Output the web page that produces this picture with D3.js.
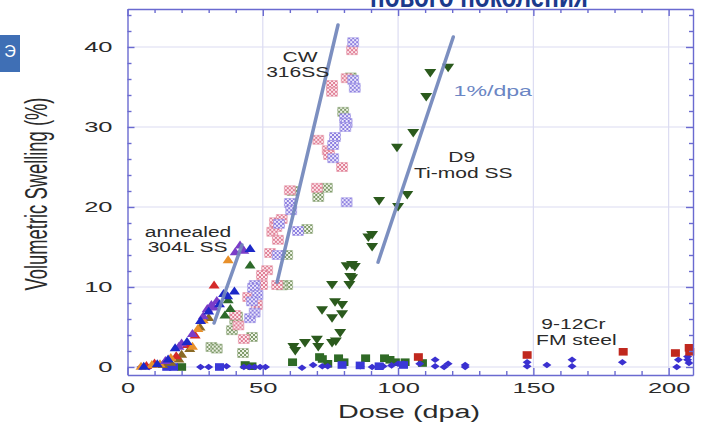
<!DOCTYPE html>
<html>
<head>
<meta charset="utf-8">
<script src="https://cdn.jsdelivr.net/npm/d3@7"></script>
<style>
body{margin:0;background:#fff;}
svg{display:block;font-family:"Liberation Sans",Arial,sans-serif;}
</style>
</head>
<body>
<div id="chart-area"></div>
<script>
// tick values
var xTicks=[0,50,100,150,200];
var yTicks=[0,10,20,30,40];

// annealed 304L SS (up triangles), one array per colour
var ann304Blue=[[6,0.1],[11,0.4],[15,1.0],[17.6,2.4],[22,3.2],[27,5.8],[30,7.0],[35.5,9.2],[37,8.9],[39.5,9.5],[45.3,14.8],[34,7.9]];
var ann304Purple=[[14,0.8],[19,2.6],[20,3.0],[28,6.4],[29.5,7.3],[31,7.8],[32,7.5],[39.8,14.4],[41.6,15.25],[43,14.6],[24,4.2],[33,8.3]];
var ann304Orange=[[5,0.1],[9,0.3],[12,0.4],[24,2.6],[28,5.9],[37.2,13.4],[26,4.8],[16,1.2]];
var ann304Red=[[7,0.2],[10,0.5],[25,4.0],[32,10.25],[22,2.8],[18,1.4]];
var ann304Brown=[[13,0.3],[16,0.6],[20,1.6],[26.8,5.0],[23,2.3],[30,6.2],[19,1.0]];
var ann304Green=[[37.2,8.4],[45.3,12.75],[38,7.3],[36,6.5]];

// CW 316SS (hatched boxes)
var cw316Pink=[[83,39.6],[81,36.1],[75.6,35.25],[75.6,34.4],[70.5,28.4],[74,27.1],[74.5,26.5],[79.3,25],[60,22.1],[70,22.4],[54.5,18.1],[55,17.5],[53.5,16.9],[55.6,15.9],[52.7,14.25],[51.6,12.1],[49.7,11.5],[55.3,10.25],[44.6,8.75],[47.8,7.75],[39.8,6.5],[49.7,10.25],[41,5.2],[43,3.5],[57,18.5]];
var cw316Purple=[[83.4,40.6],[83.4,35.9],[84,34.9],[80.4,31.1],[81,30.5],[80.5,30],[76.7,28.75],[76,27.75],[76,26.1],[60,20.5],[60.5,19.6],[81,20.6],[56,17.9],[55.5,14],[47,10.25],[46.4,9.9],[48,9],[45.3,6.1],[46,8.2],[47,6.8],[63,17]];
var cw316Olive=[[79.7,31.9],[73.7,22.4],[70.5,21.25],[66.4,17.25],[59,14],[59,10.25],[57,10.2],[39.8,5.9],[38.6,4.6],[40.5,6.3],[42.7,1.75],[46,3.75],[31,2.5],[33,2.3],[82.5,36.2],[61,22]];

// D9 Ti-mod SS (down triangles)
var d9Swelling=[[118.5,37.4],[111.9,36.75],[110.4,33.75],[105.6,29.25],[99.6,27.4],[103.4,21.5],[93,20.75],[100,20],[90.4,16.5],[90.4,15],[89,16.2],[83,12.75],[81,12.6],[82.3,11.25],[83,11.1],[82,10.25],[75.6,10.25],[76.7,8.1],[79.3,7.75],[71.9,7.1],[79.3,6.6],[75.6,6.1],[78.6,4.25],[70,3.4],[65.6,3],[61.3,2.5],[62,2.0],[70.5,2.5],[75.6,3],[77,3.2],[84,12.5]];

// low-swelling points near zero
var lowGreenSq=[[20,0],[43.5,0.25],[46,0.1],[61,0.6],[71,1.25],[72,1.0],[78,1.1],[80,0.6],[88,1.1],[95,1.1],[97,0.9],[99,0.6],[102.6,0.6],[109,0.5],[74,0.4]];
var fmDiamonds=[[5,0],[8,0],[27,0],[30,0],[36.6,0.1],[43,0],[45,0],[47,0],[49,0],[51,0],[64.5,-0.1],[68.6,0.25],[72,0.1],[74,0.1],[86,0.1],[90.4,0],[94.5,0.1],[97.6,0.2],[100,0.4],[102,0.4],[108,0.4],[113.7,0.9],[113.7,0.1],[117,0],[118.5,0.4],[124.8,0.25],[124.8,0],[147.7,0.6],[147.7,0.1],[155,0.25],[164.3,0.9],[164.3,0.1],[182.9,0.6],[203,0],[203.6,0.9],[207,0.9],[207.5,0.5],[207,1.3]];
var fmBlueSq=[[14.5,0],[17,0],[34,0],[79.3,0.25],[86,0.2],[102,0.25],[93,0.1]];
var fmRedSq=[[107.5,1.25],[147.7,1.5],[183.2,1.9],[202.5,1.75],[207.6,2.4],[207.8,1.9]];

// 1%/dpa guide lines
var line304=[[32,5.5],[42.3,15.25]];
var lineCW=[[55.3,10.6],[77.8,42.75]];
var lineD9=[[92.6,13.1],[120.4,41.25]];

// annotation text
var notes=[
    ["annealed",22.4,16.2],["304L SS",22.2,14.35],
    ["CW",63.8,38.1],["316SS",62.9,36.2],
    ["D9",123.5,25.6],["Ti-mod SS",124.1,23.6],
    ["9-12Cr",164.8,4.7],["FM steel",165.9,2.75]
];

var width=701, height=429;
var frameColor="#6a6ad0";

var svg=d3.select("#chart-area").append("svg")
    .attr("width",width)
    .attr("height",height);

var x=d3.scaleLinear().domain([0,209]).range([127.5,693]);
var y=d3.scaleLinear().domain([-1,44.75]).range([375,9]);

function stretch(sel,k){
    sel.each(function(){
        var w=this.getComputedTextLength();
        d3.select(this).attr("textLength",w*k).attr("lengthAdjust","spacingAndGlyphs");
    });
}

// slide fragments
svg.append("text")
    .attr("x",370).attr("y",7)
    .attr("font-size","32px").attr("font-weight","bold")
    .attr("fill","#1b3a8c")
    .attr("textLength",218).attr("lengthAdjust","spacingAndGlyphs")
    .text("нового поколения");
svg.append("rect").attr("x",0).attr("y",35).attr("width",20).attr("height",37).attr("fill","#3f6fb5");
svg.append("text").attr("x",10).attr("y",57).attr("text-anchor","middle")
    .attr("font-size","16px").attr("fill","#fff").text("Э");

// grid
svg.append("g").selectAll("line").data(xTicks.slice(1)).enter().append("line")
    .attr("x1",d=>x(d)).attr("x2",d=>x(d)).attr("y1",y.range()[0]).attr("y2",y.range()[1])
    .attr("stroke","#dcdcf2").attr("stroke-width",1.2);
svg.append("g").selectAll("line").data(yTicks).enter().append("line")
    .attr("y1",d=>y(d)).attr("y2",d=>y(d)).attr("x1",x.range()[0]).attr("x2",x.range()[1])
    .attr("stroke","#dcdcf2").attr("stroke-width",1.2);

// hatch patterns for CW 316SS boxes
var defs=svg.append("defs");
var hatches=[["pink","#e07f95","#fbe6ec"],["purple","#8c7fe0","#ece8fb"],["olive","#7f9a6a","#eef2e6"]];
hatches.forEach(function(h){
    var p=defs.append("pattern").attr("id","hatch-"+h[0])
        .attr("patternUnits","userSpaceOnUse").attr("width",4).attr("height",4);
    p.append("rect").attr("width",4).attr("height",4).attr("fill",h[2]);
    p.append("path").attr("d","M0,0L4,4M4,0L0,4").attr("stroke",h[1]).attr("stroke-width",1);
});

var shapes={
    up:"M0,-4.5L5.5,3.5L-5.5,3.5Z",
    down:"M-6,-4L6,-4L0,4.5Z",
    diamond:"M0,-3.3L4.5,0L0,3.3L-4.5,0Z",
    square:"M-4.5,-3.8L4.5,-3.8L4.5,3.8L-4.5,3.8Z",
    box:"M-5.5,-4.5L5.5,-4.5L5.5,4.5L-5.5,4.5Z"
};

var series=[
    {data:cw316Olive,shape:"box",fill:"url(#hatch-olive)",stroke:"#7f9a6a"},
    {data:cw316Pink,shape:"box",fill:"url(#hatch-pink)",stroke:"#e07f95"},
    {data:cw316Purple,shape:"box",fill:"url(#hatch-purple)",stroke:"#8c7fe0"},
    {data:lowGreenSq,shape:"square",fill:"#2f6a26"},
    {data:fmDiamonds,shape:"diamond",fill:"#3a30d0"},
    {data:fmBlueSq,shape:"square",fill:"#3a38d8"},
    {data:fmRedSq,shape:"square",fill:"#c0281e"},
    {data:d9Swelling,shape:"down",fill:"#2b5a1d"},
    {data:ann304Brown,shape:"up",fill:"#8a6a25"},
    {data:ann304Red,shape:"up",fill:"#d42a2a"},
    {data:ann304Orange,shape:"up",fill:"#e8902a"},
    {data:ann304Green,shape:"up",fill:"#2d6a2a"},
    {data:ann304Purple,shape:"up",fill:"#7a3cc8"},
    {data:ann304Blue,shape:"up",fill:"#1c28c8"}
];

series.forEach(function(s){
    svg.append("g").selectAll("path").data(s.data).enter().append("path")
        .attr("d",shapes[s.shape])
        .attr("transform",d=>"translate("+x(d[0])+","+y(d[1])+")")
        .attr("fill",s.fill)
        .attr("stroke",s.stroke||"none")
        .attr("stroke-width",0.6)
        .attr("stroke-opacity",0.7);
});

// guide lines
var lineGen=d3.line().x(d=>x(d[0])).y(d=>y(d[1]));
[line304,lineCW,lineD9].forEach(function(l){
    svg.append("path").attr("d",lineGen(l))
        .attr("stroke","#7186bb").attr("stroke-width",3.5)
        .attr("stroke-linecap","round").attr("fill","none").attr("opacity",0.92);
});

// axes (ticks inward on all sides)
function styleAxis(g){
    g.selectAll("path,line").attr("stroke",frameColor).attr("stroke-width",1.4);
    g.selectAll("text").attr("font-family",null).attr("font-size","15px").attr("fill","#2a2a2a");
}
var xMinor=d3.range(0,210,10).filter(d=>d%50!==0);
var yMinor=d3.range(-0,45,2).filter(d=>d%10!==0);
var bottomY=y.range()[0], topY=y.range()[1], leftX=x.range()[0], rightX=x.range()[1];

svg.append("g").attr("transform","translate(0,"+bottomY+")")
    .call(d3.axisBottom(x).tickValues(xTicks).tickSizeInner(-7).tickSizeOuter(0).tickPadding(7))
    .call(styleAxis).attr("font-family",null)
    .selectAll("text").call(stretch,1.7);
svg.append("g").attr("transform","translate(0,"+bottomY+")")
    .call(d3.axisBottom(x).tickValues(xMinor).tickSize(-4).tickFormat(""))
    .call(styleAxis).select(".domain").remove();
svg.append("g").attr("transform","translate(0,"+topY+")")
    .call(d3.axisTop(x).tickValues(xTicks).tickSizeInner(-7).tickSizeOuter(0).tickFormat(""))
    .call(styleAxis);
svg.append("g").attr("transform","translate(0,"+topY+")")
    .call(d3.axisTop(x).tickValues(xMinor).tickSize(-4).tickFormat(""))
    .call(styleAxis).select(".domain").remove();

svg.append("g").attr("transform","translate("+leftX+",0)")
    .call(d3.axisLeft(y).tickValues(yTicks).tickSizeInner(-7).tickSizeOuter(0).tickPadding(15))
    .call(styleAxis).attr("font-family",null)
    .selectAll("text").call(stretch,1.7);
svg.append("g").attr("transform","translate("+leftX+",0)")
    .call(d3.axisLeft(y).tickValues(yMinor).tickSize(-4).tickFormat(""))
    .call(styleAxis).select(".domain").remove();
svg.append("g").attr("transform","translate("+rightX+",0)")
    .call(d3.axisRight(y).tickValues(yTicks).tickSizeInner(-7).tickSizeOuter(0).tickFormat(""))
    .call(styleAxis);
svg.append("g").attr("transform","translate("+rightX+",0)")
    .call(d3.axisRight(y).tickValues(yMinor).tickSize(-4).tickFormat(""))
    .call(styleAxis).select(".domain").remove();

// axis titles
svg.append("text")
    .attr("transform","translate(409,418)")
    .attr("text-anchor","middle")
    .attr("font-size","18px")
    .attr("fill","#2a2a2a")
    .attr("textLength",142).attr("lengthAdjust","spacingAndGlyphs")
    .text("Dose (dpa)");

svg.append("text")
    .attr("transform","translate(47,194) scale(1.75,1) rotate(-90)")
    .attr("text-anchor","middle")
    .attr("font-size","18px")
    .attr("fill","#2a2a2a")
    .attr("textLength",193).attr("lengthAdjust","spacingAndGlyphs")
    .text("Volumetric Swelling (%)");

// annotations
svg.append("g").selectAll("text").data(notes).enter().append("text")
    .attr("x",d=>x(d[1])).attr("y",d=>y(d[2]))
    .attr("text-anchor","middle")
    .attr("font-size","14px")
    .attr("fill","#2a2a2a")
    .text(d=>d[0])
    .call(stretch,1.5);

svg.append("text")
    .attr("x",x(135)).attr("y",y(33.9))
    .attr("text-anchor","middle")
    .attr("font-size","14px")
    .attr("fill","#6b86c4")
    .text("1%/dpa")
    .call(stretch,1.65);
</script>
</body>
</html>
